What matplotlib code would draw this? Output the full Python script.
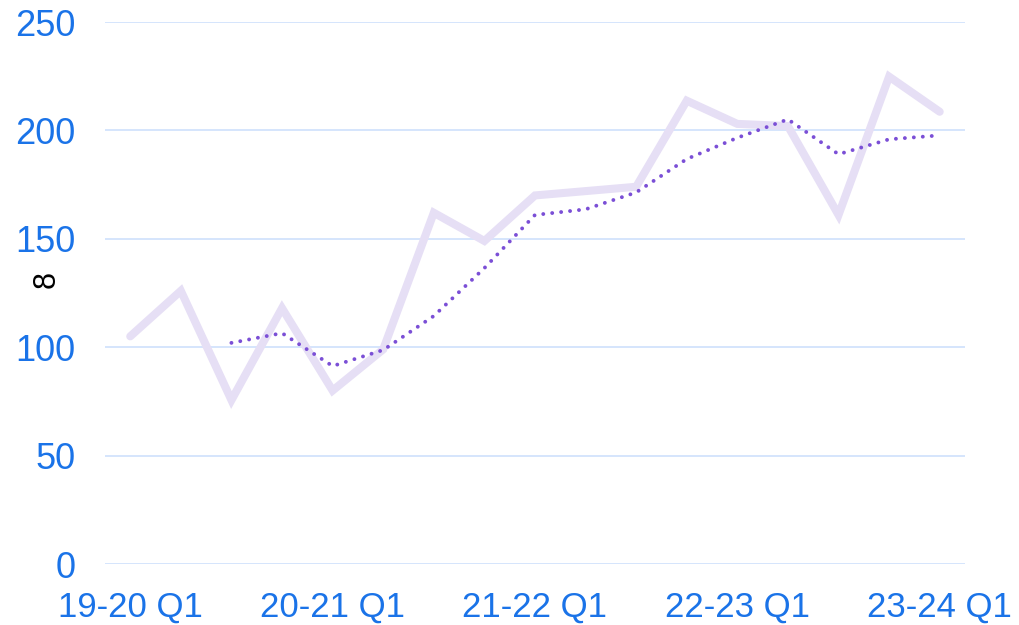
import numpy as np
import matplotlib.pyplot as plt

# =====================================================
# DATA
# =====================================================

quarters = [
    "19-20 Q1", "19-20 Q2", "19-20 Q3", "19-20 Q4",
    "20-21 Q1", "20-21 Q2", "20-21 Q3", "20-21 Q4",
    "21-22 Q1", "21-22 Q2", "21-22 Q3", "21-22 Q4",
    "22-23 Q1", "22-23 Q2", "22-23 Q3", "22-23 Q4",
    "23-24 Q1",
]

values = [105, 126, 75.6, 118, 80, 99, 162, 149, 170, 172, 174,
          213.7, 203, 202, 161, 224.8, 208.6]

# moving average, starts at the third quarter
moving_avg = [np.nan, np.nan, 102, 106.5, 91.3, 98.7, 114.4, 136.5, 161,
              163.6, 171.4, 186.8, 196.6, 205.1, 189, 195.9, 197.7]

yticks = [0, 50, 100, 150, 200, 250]

BLUE = "#1a73e8"
GRID = "#d2e3fc"
LIGHT = "#e6dff5"
PURPLE = "#7b4fd6"

# =====================================================
# PLOT
# =====================================================

plt.rcParams["font.family"] = ["Liberation Sans", "DejaVu Sans"]

fig = plt.figure(figsize=(10.19, 6.25), dpi=100)
ax = fig.add_axes([0.103, 0.0976, 0.844, 0.8672])

x = np.arange(len(quarters))

ax.plot(x, values, color=LIGHT, linewidth=5.8, solid_capstyle="round",
        solid_joinstyle="miter", zorder=2)
ax.plot(x, moving_avg, color=PURPLE, linewidth=2.8, linestyle=(0, (0.01, 2.3)),
        dash_capstyle="round", zorder=3)

ax.set_xlim(-0.5, 16.5)
ax.set_ylim(0, 250)

ax.set_yticks(yticks)
ax.set_yticklabels([str(v) for v in yticks])
ax.set_xticks(x[::4])
ax.set_xticklabels(quarters[::4])

ax.grid(axis="y", color=GRID, linewidth=1.3)
ax.set_axisbelow(True)

for s in ax.spines.values():
    s.set_visible(False)

ax.tick_params(axis="both", length=0, colors=BLUE)
ax.tick_params(axis="y", labelsize=26, pad=21)
ax.tick_params(axis="x", labelsize=25, pad=19)

ax.set_ylabel("8", fontsize=22, color="black", rotation=90)
ax.yaxis.set_label_coords(-0.05, 0.525)

plt.savefig("out.png", dpi=100)
plt.close()
